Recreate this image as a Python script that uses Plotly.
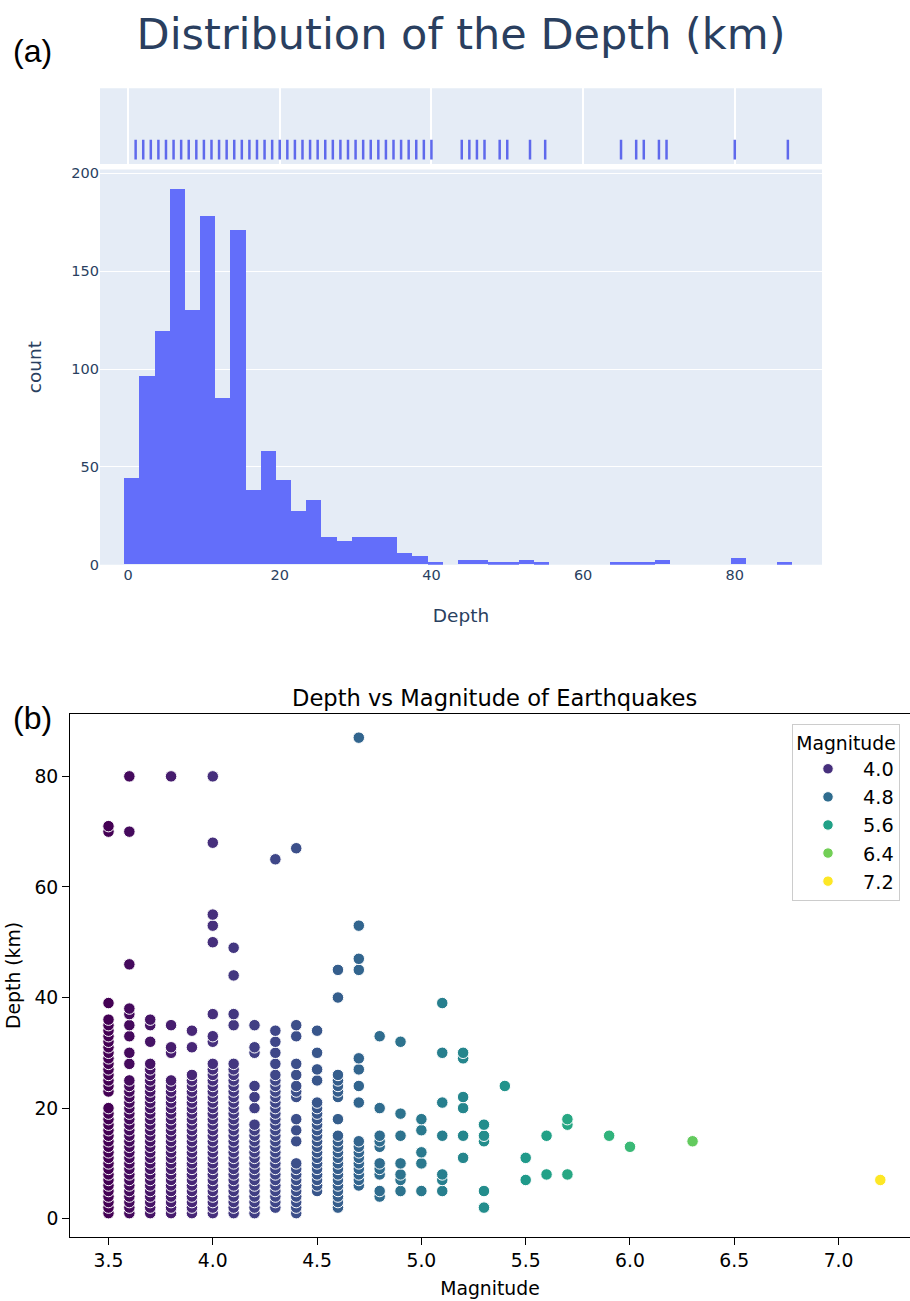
import plotly.graph_objects as go
from plotly.colors import sample_colorscale

W, H = 910, 1301

# ---------------- (a) depth histogram with rug ----------------
bin_start = -0.5
bin_size = 2
depth_counts = [44, 96, 119, 192, 130, 178, 85, 171, 38, 58,
                43, 27, 33, 14, 12, 14, 14, 14, 6, 4,
                1, 0, 2, 2, 1, 1, 2, 1, 0, 0,
                0, 0, 1, 1, 1, 2, 0, 0, 0, 0,
                3, 0, 0, 1]

rug_depths = [1, 2, 3, 4, 5, 6, 7, 8, 9, 10, 11, 12, 13, 14, 15, 16, 17, 18, 19, 20,
              21, 22, 23, 24, 25, 26, 27, 28, 29, 30, 31, 32, 33, 34, 35, 36, 37, 38, 39, 40,
              44, 45, 46, 47, 49, 50, 53, 55, 65, 67, 68, 70, 71, 80, 87]

hist_ticks = [0, 20, 40, 60, 80]
count_ticks = [0, 50, 100, 150, 200]

# ---------------- (b) depth vs magnitude ----------------
depth_m35 = [1, 2, 3, 4, 5, 6, 7, 8, 9, 10, 11, 12, 13, 14, 15, 16, 17, 18, 19, 20,
             23, 24, 25, 26, 27, 28, 29, 30, 31, 32, 33, 34, 35, 36, 39, 70, 71]
depth_m36 = [1, 2, 3, 4, 5, 6, 7, 8, 9, 10, 11, 12, 13, 14, 15, 16, 17, 18, 19, 20,
             21, 22, 23, 24, 25, 28, 30, 33, 35, 37, 38, 46, 70, 80]
depth_m37 = [1, 2, 3, 4, 5, 6, 7, 8, 9, 10, 11, 12, 13, 14, 15, 16, 17, 18, 19, 20,
             21, 22, 23, 24, 25, 26, 27, 28, 32, 35, 36]
depth_m38 = [1, 2, 3, 4, 5, 6, 7, 8, 9, 10, 11, 12, 13, 14, 15, 16, 17, 18, 19, 20,
             21, 22, 23, 24, 25, 30, 31, 35, 80]
depth_m39 = [1, 2, 3, 4, 5, 6, 7, 8, 9, 10, 11, 12, 13, 14, 15, 16, 17, 18, 19, 20,
             21, 22, 23, 24, 25, 26, 31, 34]
depth_m40 = [1, 2, 3, 4, 5, 6, 7, 8, 9, 10, 11, 12, 13, 14, 15, 16, 17, 18, 19, 20,
             21, 22, 23, 24, 25, 26, 27, 28, 32, 33, 37, 50, 53, 55, 68, 80]
depth_m41 = [1, 2, 3, 4, 5, 6, 7, 8, 9, 10, 11, 12, 13, 14, 15, 16, 17, 18, 19, 20,
             21, 22, 23, 24, 25, 26, 27, 28, 35, 37, 44, 49]
depth_m42 = [1, 2, 3, 4, 5, 6, 7, 8, 9, 10, 11, 12, 13, 14, 15, 16, 17,
             20, 22, 24, 30, 31, 35]
depth_m43 = [2, 3, 4, 5, 6, 7, 8, 9, 10, 11, 12, 13, 14, 15, 16, 17, 18, 19, 20,
             21, 22, 23, 24, 25, 26, 28, 30, 32, 34, 65]
depth_m44 = [1, 2, 3, 4, 5, 6, 7, 8, 9, 10, 14, 16, 18, 22, 23, 24, 26, 28, 33, 35, 67]
depth_m45 = [5, 6, 7, 8, 9, 10, 11, 12, 13, 14, 15, 16, 17, 18, 19, 20, 21, 25, 27, 30, 34]
depth_m46 = [2, 3, 4, 5, 6, 7, 8, 9, 10, 11, 12, 13, 14, 15, 18, 22, 23, 24, 25, 26, 40, 45]
depth_m47 = [6, 7, 8, 9, 10, 11, 12, 13, 14, 21, 24, 27, 29, 45, 47, 53, 87]
depth_m48 = [4, 5, 8, 9, 10, 13, 14, 15, 20, 33]
depth_m49 = [5, 7, 8, 10, 15, 19, 32]
depth_m50 = [5, 10, 12, 16, 18]
depth_m51 = [5, 7, 8, 15, 21, 30, 39]
depth_m52 = [11, 15, 20, 22, 29, 30]
depth_m53 = [2, 5, 14, 15, 17]
depth_m54 = [24]
depth_m55 = [7, 11]
depth_m56 = [8, 15]
depth_m57 = [8, 17, 18]
depth_m59 = [15]
depth_m60 = [13]
depth_m63 = [14]
depth_m72 = [7]

magnitude_columns = [
    (3.5, depth_m35), (3.6, depth_m36), (3.7, depth_m37), (3.8, depth_m38),
    (3.9, depth_m39), (4.0, depth_m40), (4.1, depth_m41), (4.2, depth_m42),
    (4.3, depth_m43), (4.4, depth_m44), (4.5, depth_m45), (4.6, depth_m46),
    (4.7, depth_m47), (4.8, depth_m48), (4.9, depth_m49), (5.0, depth_m50),
    (5.1, depth_m51), (5.2, depth_m52), (5.3, depth_m53), (5.4, depth_m54),
    (5.5, depth_m55), (5.6, depth_m56), (5.7, depth_m57), (5.9, depth_m59),
    (6.0, depth_m60), (6.3, depth_m63), (7.2, depth_m72),
]

legend_levels = [4.0, 4.8, 5.6, 6.4, 7.2]
mag_ticks = [3.5, 4.0, 4.5, 5.0, 5.5, 6.0, 6.5, 7.0]
depth_ticks = [0, 20, 40, 60, 80]

MAG_MIN, MAG_MAX = 3.5, 7.2

HIST_FONT = "DejaVu Sans"
HIST_TEXT = "#2a3f5f"
MPL_FONT = "DejaVu Sans"


def fx(p):
    return p / W


def fy(p):
    return 1 - p / H


fig = go.Figure()

# histogram bars
bin_centers = [bin_start + bin_size * (i + 0.5) for i in range(len(depth_counts))]
fig.add_trace(go.Bar(
    x=bin_centers, y=depth_counts, width=bin_size,
    marker=dict(color="#636efa", line=dict(width=0)),
    xaxis="x", yaxis="y", showlegend=False, hoverinfo="skip",
))

# rug of individual depth values
fig.add_trace(go.Scatter(
    x=rug_depths, y=[0.19] * len(rug_depths), mode="markers",
    marker=dict(symbol="line-ns-open", size=14, color="#5f69ec",
                line=dict(width=2.5, color="#5f69ec")),
    xaxis="x2", yaxis="y2", showlegend=False, hoverinfo="skip",
))

# scatter points, coloured by magnitude
sx, sy = [], []
for mag, depths in magnitude_columns:
    sx += [mag] * len(depths)
    sy += depths
fig.add_trace(go.Scatter(
    x=sx, y=sy, mode="markers",
    marker=dict(size=11.5, color=sx, colorscale="Viridis", cmin=MAG_MIN, cmax=MAG_MAX,
                line=dict(color="white", width=1)),
    xaxis="x3", yaxis="y3", showlegend=False, hoverinfo="skip",
))

# legend entries for the hue levels
for lvl in legend_levels:
    col = sample_colorscale("Viridis", [(lvl - MAG_MIN) / (MAG_MAX - MAG_MIN)])[0]
    fig.add_trace(go.Scatter(
        x=[None], y=[None], mode="markers", name=f"{lvl:.1f}",
        marker=dict(size=10.5, color=col, line=dict(color="white", width=1)),
        xaxis="x3", yaxis="y3", showlegend=True,
    ))

hist_x_dom = [fx(100), fx(822)]
hist_range = [-3.7, 91.5]

fig.update_layout(
    width=W, height=H, autosize=False,
    margin=dict(l=0, r=0, t=0, b=0),
    paper_bgcolor="white", plot_bgcolor="white",
    font=dict(family=HIST_FONT, color=HIST_TEXT),
    bargap=0,
    title=dict(text="Distribution of the Depth (km)", x=fx(461), y=fy(30),
               xref="paper", yref="paper", xanchor="center", yanchor="middle",
               font=dict(family=HIST_FONT, size=43, color=HIST_TEXT)),
    xaxis=dict(domain=hist_x_dom, anchor="y", range=hist_range, tickvals=hist_ticks,
               showgrid=False, zeroline=False, ticks="",
               tickfont=dict(size=14.5, color=HIST_TEXT),
               title=dict(text="Depth", font=dict(size=18.5, color=HIST_TEXT), standoff=26)),
    yaxis=dict(domain=[fy(566), fy(167)], anchor="x", range=[0, 202], tickvals=count_ticks,
               showgrid=True, gridcolor="white", gridwidth=1, zeroline=False, ticks="",
               tickfont=dict(size=14.5, color=HIST_TEXT),
               title=dict(text="count", font=dict(size=18.5, color=HIST_TEXT), standoff=24)),
    xaxis2=dict(domain=hist_x_dom, anchor="y2", matches="x", range=hist_range,
                tickvals=hist_ticks, showticklabels=False, showgrid=True,
                gridcolor="white", gridwidth=1.5, zeroline=False, ticks=""),
    yaxis2=dict(domain=[fy(161.5), fy(85)], anchor="x2", range=[0, 1],
                showticklabels=False, showgrid=False, zeroline=False, ticks=""),
    xaxis3=dict(domain=[fx(69.9), 1.0], anchor="y3",
                range=[3.315, 3.315 + (W - 69.9) / 208.6], tickvals=mag_ticks,
                ticktext=[f"{v:.1f}" for v in mag_ticks],
                ticks="outside", ticklen=6.6, tickwidth=1.4, tickcolor="black",
                showline=True, linecolor="black", linewidth=1.4, mirror=True,
                showgrid=False, zeroline=False,
                tickfont=dict(family=MPL_FONT, size=18.8, color="black"),
                title=dict(text="Magnitude", standoff=11,
                           font=dict(family=MPL_FONT, size=18.8, color="black"))),
    yaxis3=dict(domain=[fy(1244.4), fy(716.5)], anchor="x3", range=[-3.3, 91.3],
                tickvals=depth_ticks, ticks="outside", ticklen=6.6, tickwidth=1.4,
                tickcolor="black", showline=True, linecolor="black", linewidth=1.4,
                mirror=False, showgrid=False, zeroline=False,
                tickfont=dict(family=MPL_FONT, size=18.8, color="black"),
                title=dict(text="Depth (km)", standoff=8,
                           font=dict(family=MPL_FONT, size=18.8, color="black"))),
    legend=dict(x=fx(792), y=fy(727), xanchor="left", yanchor="top",
                bgcolor="rgba(255,255,255,0.8)", bordercolor="#cccccc", borderwidth=1,
                font=dict(family=MPL_FONT, size=19.3, color="black"),
                title=dict(text="Magnitude", side="top center",
                           font=dict(family=MPL_FONT, size=18.8, color="black")),
                itemwidth=60, tracegroupgap=0),
    shapes=[
        dict(type="rect", xref="x domain", yref="y domain", x0=0, x1=1, y0=0, y1=1,
             fillcolor="#E5ECF6", line=dict(width=0), layer="below"),
        dict(type="rect", xref="x2 domain", yref="y2 domain", x0=0, x1=1, y0=0, y1=1,
             fillcolor="#E5ECF6", line=dict(width=0), layer="below"),
    ],
    annotations=[
        dict(text="(a)", x=fx(11), y=fy(47), xref="paper", yref="paper",
             xanchor="left", yanchor="middle", showarrow=False,
             font=dict(family="Liberation Sans", size=32, color="black")),
        dict(text="(b)", x=fx(11), y=fy(721), xref="paper", yref="paper",
             xanchor="left", yanchor="middle", showarrow=False,
             font=dict(family="Liberation Sans", size=32, color="black")),
        dict(text="Depth vs Magnitude of Earthquakes", x=fx(494.4), y=fy(700),
             xref="paper", yref="paper", xanchor="center", yanchor="middle",
             showarrow=False, font=dict(family=MPL_FONT, size=22.6, color="black")),
    ],
)

fig.write_html("out.html")
